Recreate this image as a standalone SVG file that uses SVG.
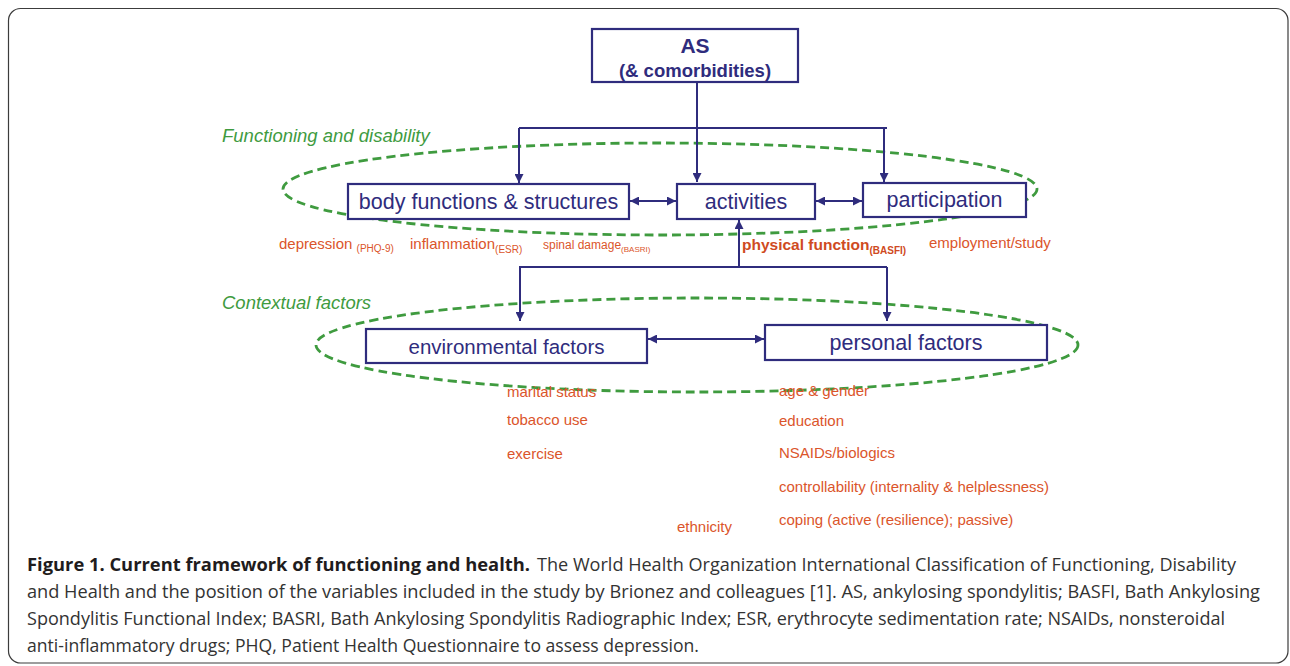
<svg xmlns="http://www.w3.org/2000/svg" width="1290" height="666" viewBox="0 0 1290 666">
<style>
.box{fill:#fff;stroke:#2f2c7d;stroke-width:2.2}
.bt{font-family:"Liberation Sans",Arial,sans-serif;font-size:21.5px;fill:#2f2c7d;text-anchor:middle}
.con{fill:none;stroke:#2f2c7d;stroke-width:2}
.ell{fill:none;stroke:#3f9b3f;stroke-width:2.8;stroke-dasharray:9 5}
.grn{font-family:"Liberation Sans",Arial,sans-serif;font-size:18.5px;font-style:italic;fill:#3f9b3f}
.red{font-family:"Liberation Sans",Arial,sans-serif;font-size:15px;fill:#db552b}
.sub{font-size:10px}
.cap{font-family:"Open Sans","Noto Sans",sans-serif;font-size:18px;fill:#333}
.capb{font-family:"Open Sans","Noto Sans",sans-serif;font-size:18px;font-weight:bold;fill:#1f1c1d}
</style>
<defs>
<marker id="ah" viewBox="0 0 10 10" refX="10" refY="5" markerWidth="4.5" markerHeight="4.5" orient="auto-start-reverse">
<path d="M0,0 L10,5 L0,10 z" fill="#2f2c7d"/>
</marker>
</defs>
<rect x="8.5" y="8.5" width="1279.5" height="654.5" rx="12" fill="#fff" stroke="#3c3c3c" stroke-width="1.2"/>

<g id="ellipses">
<ellipse class="ell" cx="660" cy="189" rx="377" ry="46"/>
<ellipse class="ell" cx="697" cy="345" rx="381" ry="47"/>
</g>

<text class="grn" x="222" y="142">Functioning and disability</text>
<text class="grn" x="222" y="309">Contextual factors</text>

<g id="connectors">
<path class="con" d="M697,82 V182" marker-end="url(#ah)"/>
<path class="con" d="M519,128 H887"/>
<path class="con" d="M519,128 V183" marker-end="url(#ah)"/>
<path class="con" d="M884,128 V182" marker-end="url(#ah)"/>
<path class="con" d="M630,201 H676" marker-start="url(#ah)" marker-end="url(#ah)"/>
<path class="con" d="M816,201 H862" marker-start="url(#ah)" marker-end="url(#ah)"/>
<path class="con" d="M739,267 V220" marker-end="url(#ah)"/>
<path class="con" d="M519,267 H887"/>
<path class="con" d="M520,267 V321" marker-end="url(#ah)"/>
<path class="con" d="M887,267 V321" marker-end="url(#ah)"/>
<path class="con" d="M648,339 H764" marker-start="url(#ah)" marker-end="url(#ah)"/>
</g>

<g id="as">
<rect class="box" x="592" y="29" width="206" height="53"/>
<text x="695" y="53" font-family="Liberation Sans,Arial,sans-serif" font-size="21" font-weight="bold" fill="#2f2c7d" text-anchor="middle">AS</text>
<text x="695" y="77" font-family="Liberation Sans,Arial,sans-serif" font-size="18.5" font-weight="bold" fill="#2f2c7d" text-anchor="middle">(&amp; comorbidities)</text>
</g>
<g id="body">
<rect class="box" x="348" y="184" width="281" height="35"/>
<text class="bt" x="488.5" y="209">body functions &amp; structures</text>
</g>
<g id="activities">
<rect class="box" x="677" y="184" width="138" height="35"/>
<text class="bt" x="746" y="209">activities</text>
</g>
<g id="participation">
<rect class="box" x="863" y="183" width="163" height="34"/>
<text class="bt" x="944.5" y="207">participation</text>
</g>
<g id="environmental">
<rect class="box" x="366" y="329" width="281" height="34"/>
<text class="bt" x="506.5" y="354" style="font-size:20.5px">environmental factors</text>
</g>
<g id="personal">
<rect class="box" x="765" y="325" width="282" height="35"/>
<text class="bt" x="906" y="350">personal factors</text>
</g>

<g id="labels">
<text class="red" x="279" y="249">depression <tspan class="sub" dy="3">(PHQ-9)</tspan></text>
<text class="red" x="410" y="249">inflammation<tspan class="sub" dy="4">(ESR)</tspan></text>
<text class="red" x="543" y="249" style="font-size:12px">spinal damage<tspan style="font-size:8px" dy="3">(BASRI)</tspan></text>
<text class="red" x="742" y="250" style="font-size:15.5px;font-weight:bold;fill:#cf4a22">physical function<tspan style="font-size:10px" dy="4">(BASFI)</tspan></text>
<text class="red" x="929" y="248">employment/study</text>
<text class="red" x="507" y="397">marital status</text>
<text class="red" x="507" y="425">tobacco use</text>
<text class="red" x="507" y="459">exercise</text>
<text class="red" x="779" y="396">age &amp; gender</text>
<text class="red" x="779" y="426">education</text>
<text class="red" x="779" y="458">NSAIDs/biologics</text>
<text class="red" x="779" y="492">controllability (internality &amp; helplessness)</text>
<text class="red" x="779" y="525">coping (active (resilience); passive)</text>
<text class="red" x="677" y="532">ethnicity</text>
</g>

<g id="caption">
<text class="capb" x="27" y="571" textLength="503" lengthAdjust="spacingAndGlyphs">Figure 1. Current framework of functioning and health.</text>
<text class="cap" x="537" y="571" textLength="699" lengthAdjust="spacingAndGlyphs">The World Health Organization International Classification of Functioning, Disability</text>
<text class="cap" x="27" y="598" textLength="1233" lengthAdjust="spacingAndGlyphs">and Health and the position of the variables included in the study by Brionez and colleagues [1]. AS, ankylosing spondylitis; BASFI, Bath Ankylosing</text>
<text class="cap" x="27" y="625" textLength="1198" lengthAdjust="spacingAndGlyphs">Spondylitis Functional Index; BASRI, Bath Ankylosing Spondylitis Radiographic Index; ESR, erythrocyte sedimentation rate; NSAIDs, nonsteroidal</text>
<text class="cap" x="27" y="652" textLength="672" lengthAdjust="spacingAndGlyphs">anti-inflammatory drugs; PHQ, Patient Health Questionnaire to assess depression.</text>
</g>
</svg>
